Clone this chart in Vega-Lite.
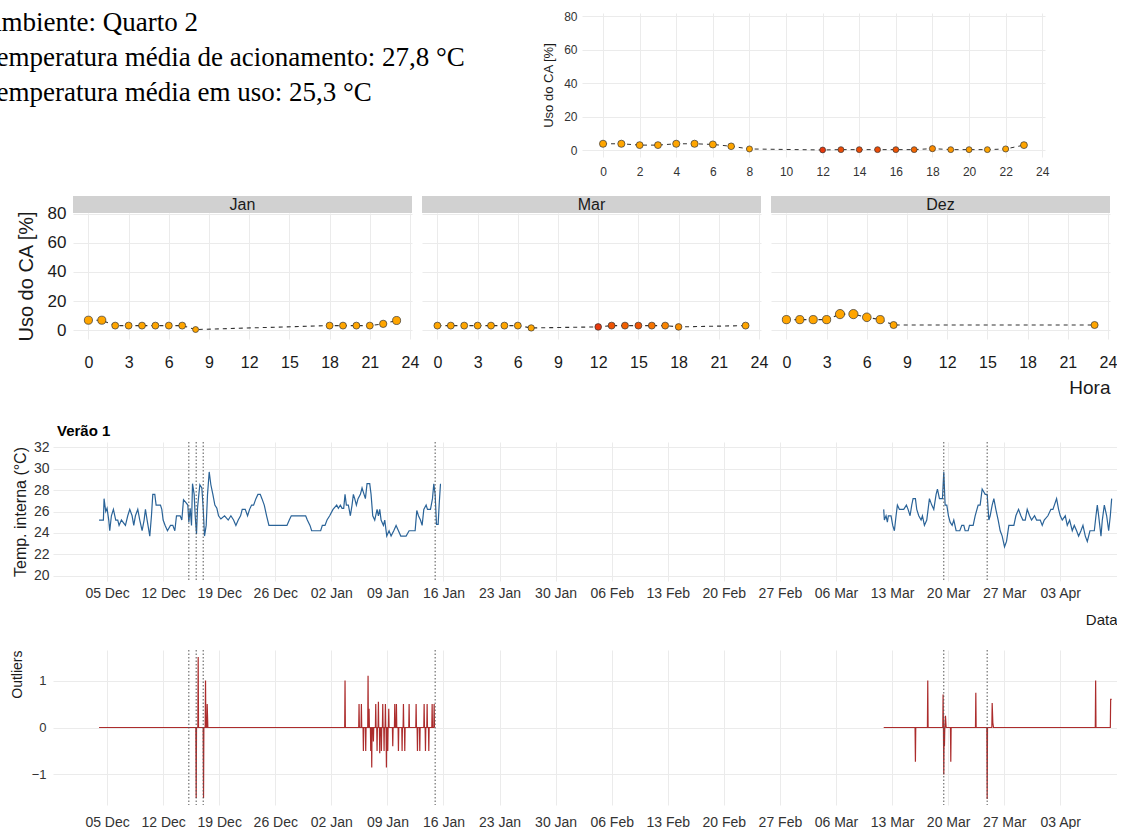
{
"$schema": "https://vega.github.io/schema/vega-lite/v6.json",
"padding": {"left": 0, "top": 10, "right": 0, "bottom": 0},
"config": {
  "font": "Liberation Sans",
  "view": {"stroke": null},
  "axis": {"domain": false, "ticks": false, "gridColor": "#ebebeb", "gridWidth": 1, "labelColor": "#333333", "titleColor": "#1a1a1a", "titleFontWeight": "normal", "labelFont": "Liberation Sans", "titleFont": "Liberation Sans", "labelFlush": false, "labelOverlap": false},
  "title": {"font": "Liberation Sans"}
},
"datasets": {
  "info": [
    {"linha": 1, "texto": "Ambiente: Quarto 2"},
    {"linha": 2, "texto": "Temperatura média de acionamento: 27,8 °C"},
    {"linha": 3, "texto": "Temperatura média em uso: 25,3 °C"}
  ],
  "geral": [
    {"hora": 0, "uso": 3.9, "temp": 26}, {"hora": 1, "uso": 3.9, "temp": 26}, {"hora": 2, "uso": 3.1, "temp": 26},
    {"hora": 3, "uso": 3.1, "temp": 26}, {"hora": 4, "uso": 3.9, "temp": 26}, {"hora": 5, "uso": 3.9, "temp": 26},
    {"hora": 6, "uso": 3.5, "temp": 26}, {"hora": 7, "uso": 2.4, "temp": 26}, {"hora": 8, "uso": 0.8, "temp": 26},
    {"hora": 12, "uso": 0.2, "temp": 29.5}, {"hora": 13, "uso": 0.4, "temp": 29}, {"hora": 14, "uso": 0.4, "temp": 29},
    {"hora": 15, "uso": 0.4, "temp": 29}, {"hora": 16, "uso": 0.4, "temp": 28.8}, {"hora": 17, "uso": 0.4, "temp": 28.2},
    {"hora": 18, "uso": 1.0, "temp": 27}, {"hora": 19, "uso": 0.4, "temp": 26.5}, {"hora": 20, "uso": 0.4, "temp": 26.2},
    {"hora": 21, "uso": 0.4, "temp": 26}, {"hora": 22, "uso": 0.8, "temp": 26}, {"hora": 23, "uso": 3.1, "temp": 26}
  ],
  "facetas": [
    {"mes": "Jan", "hora": 0, "uso": 6.9, "temp": 26}, {"mes": "Jan", "hora": 1, "uso": 6.9, "temp": 26},
    {"mes": "Jan", "hora": 2, "uso": 3.2, "temp": 26}, {"mes": "Jan", "hora": 3, "uso": 3.2, "temp": 26},
    {"mes": "Jan", "hora": 4, "uso": 3.2, "temp": 26}, {"mes": "Jan", "hora": 5, "uso": 3.2, "temp": 26},
    {"mes": "Jan", "hora": 6, "uso": 3.2, "temp": 26}, {"mes": "Jan", "hora": 7, "uso": 3.2, "temp": 26},
    {"mes": "Jan", "hora": 8, "uso": 0.5, "temp": 26}, {"mes": "Jan", "hora": 18, "uso": 3.2, "temp": 26},
    {"mes": "Jan", "hora": 19, "uso": 3.2, "temp": 26}, {"mes": "Jan", "hora": 20, "uso": 3.2, "temp": 26},
    {"mes": "Jan", "hora": 21, "uso": 3.2, "temp": 26}, {"mes": "Jan", "hora": 22, "uso": 4.4, "temp": 26},
    {"mes": "Jan", "hora": 23, "uso": 6.7, "temp": 26},
    {"mes": "Mar", "hora": 0, "uso": 3.2, "temp": 26}, {"mes": "Mar", "hora": 1, "uso": 3.2, "temp": 26},
    {"mes": "Mar", "hora": 2, "uso": 3.2, "temp": 26}, {"mes": "Mar", "hora": 3, "uso": 3.2, "temp": 26},
    {"mes": "Mar", "hora": 4, "uso": 3.2, "temp": 26}, {"mes": "Mar", "hora": 5, "uso": 3.2, "temp": 26},
    {"mes": "Mar", "hora": 6, "uso": 3.2, "temp": 26}, {"mes": "Mar", "hora": 7, "uso": 1.6, "temp": 26},
    {"mes": "Mar", "hora": 12, "uso": 2.3, "temp": 29.5}, {"mes": "Mar", "hora": 13, "uso": 3.2, "temp": 28.8},
    {"mes": "Mar", "hora": 14, "uso": 3.2, "temp": 28.4}, {"mes": "Mar", "hora": 15, "uso": 3.2, "temp": 28.8},
    {"mes": "Mar", "hora": 16, "uso": 3.2, "temp": 27.8}, {"mes": "Mar", "hora": 17, "uso": 3.2, "temp": 27.2},
    {"mes": "Mar", "hora": 18, "uso": 2.3, "temp": 26.8}, {"mes": "Mar", "hora": 23, "uso": 3.2, "temp": 26},
    {"mes": "Dez", "hora": 0, "uso": 7.3, "temp": 26}, {"mes": "Dez", "hora": 1, "uso": 7.3, "temp": 26},
    {"mes": "Dez", "hora": 2, "uso": 7.3, "temp": 26}, {"mes": "Dez", "hora": 3, "uso": 7.3, "temp": 26},
    {"mes": "Dez", "hora": 4, "uso": 11.1, "temp": 26}, {"mes": "Dez", "hora": 5, "uso": 11.1, "temp": 26},
    {"mes": "Dez", "hora": 6, "uso": 8.9, "temp": 26}, {"mes": "Dez", "hora": 7, "uso": 7.3, "temp": 26},
    {"mes": "Dez", "hora": 8, "uso": 3.6, "temp": 26}, {"mes": "Dez", "hora": 23, "uso": 3.6, "temp": 26}
  ],
  "eventos": [
    {"data": "2022-12-15T05:00"}, {"data": "2022-12-16T03:00"}, {"data": "2022-12-17T00:00"},
    {"data": "2023-01-14T23:00"}, {"data": "2023-03-19T11:00"}, {"data": "2023-03-24T21:00"}
  ],
  "temperatura": [
    {"data": "2022-12-04T00:00", "temp": 25.2, "seg": 1}, {"data": "2022-12-04T13:00", "temp": 25.2, "seg": 1},
    {"data": "2022-12-04T15:00", "temp": 27.2, "seg": 1}, {"data": "2022-12-04T20:00", "temp": 26.0, "seg": 1},
    {"data": "2022-12-05T00:00", "temp": 26.3, "seg": 1}, {"data": "2022-12-05T05:00", "temp": 25.2, "seg": 1},
    {"data": "2022-12-05T08:00", "temp": 24.2, "seg": 1}, {"data": "2022-12-05T13:00", "temp": 25.6, "seg": 1},
    {"data": "2022-12-05T19:00", "temp": 26.2, "seg": 1}, {"data": "2022-12-06T02:00", "temp": 25.2, "seg": 1},
    {"data": "2022-12-06T08:00", "temp": 25.2, "seg": 1}, {"data": "2022-12-06T12:00", "temp": 24.7, "seg": 1},
    {"data": "2022-12-06T19:00", "temp": 25.2, "seg": 1}, {"data": "2022-12-07T07:00", "temp": 24.7, "seg": 1},
    {"data": "2022-12-07T14:00", "temp": 25.6, "seg": 1}, {"data": "2022-12-07T20:00", "temp": 26.2, "seg": 1},
    {"data": "2022-12-08T03:00", "temp": 25.6, "seg": 1}, {"data": "2022-12-08T08:00", "temp": 24.7, "seg": 1},
    {"data": "2022-12-08T13:00", "temp": 25.6, "seg": 1}, {"data": "2022-12-08T20:00", "temp": 26.2, "seg": 1},
    {"data": "2022-12-09T02:00", "temp": 25.2, "seg": 1}, {"data": "2022-12-09T09:00", "temp": 24.2, "seg": 1},
    {"data": "2022-12-09T15:00", "temp": 25.2, "seg": 1}, {"data": "2022-12-09T19:00", "temp": 26.2, "seg": 1},
    {"data": "2022-12-10T00:00", "temp": 25.2, "seg": 1}, {"data": "2022-12-10T08:00", "temp": 23.7, "seg": 1},
    {"data": "2022-12-10T13:00", "temp": 25.6, "seg": 1}, {"data": "2022-12-10T17:00", "temp": 27.6, "seg": 1},
    {"data": "2022-12-10T23:00", "temp": 27.6, "seg": 1}, {"data": "2022-12-11T03:00", "temp": 26.6, "seg": 1},
    {"data": "2022-12-11T10:00", "temp": 26.6, "seg": 1}, {"data": "2022-12-11T16:00", "temp": 26.6, "seg": 1},
    {"data": "2022-12-11T20:00", "temp": 26.2, "seg": 1}, {"data": "2022-12-12T00:00", "temp": 25.2, "seg": 1},
    {"data": "2022-12-12T06:00", "temp": 24.7, "seg": 1}, {"data": "2022-12-12T13:00", "temp": 24.2, "seg": 1},
    {"data": "2022-12-12T22:00", "temp": 24.7, "seg": 1}, {"data": "2022-12-13T05:00", "temp": 24.7, "seg": 1},
    {"data": "2022-12-13T11:00", "temp": 24.2, "seg": 1}, {"data": "2022-12-13T16:00", "temp": 25.6, "seg": 1},
    {"data": "2022-12-14T03:00", "temp": 25.6, "seg": 1}, {"data": "2022-12-14T08:00", "temp": 25.2, "seg": 1},
    {"data": "2022-12-14T13:00", "temp": 27.1, "seg": 1}, {"data": "2022-12-14T21:00", "temp": 26.8, "seg": 1},
    {"data": "2022-12-15T02:00", "temp": 26.6, "seg": 1}, {"data": "2022-12-15T05:00", "temp": 25.0, "seg": 1},
    {"data": "2022-12-15T09:00", "temp": 26.3, "seg": 1}, {"data": "2022-12-15T13:00", "temp": 24.7, "seg": 1},
    {"data": "2022-12-15T16:00", "temp": 28.6, "seg": 1}, {"data": "2022-12-15T21:00", "temp": 27.6, "seg": 1},
    {"data": "2022-12-16T00:00", "temp": 25.6, "seg": 1}, {"data": "2022-12-16T04:00", "temp": 23.9, "seg": 1},
    {"data": "2022-12-16T07:00", "temp": 26.3, "seg": 1}, {"data": "2022-12-16T11:00", "temp": 27.6, "seg": 1},
    {"data": "2022-12-16T14:00", "temp": 28.5, "seg": 1}, {"data": "2022-12-16T20:00", "temp": 28.2, "seg": 1},
    {"data": "2022-12-17T00:00", "temp": 26.3, "seg": 1}, {"data": "2022-12-17T04:00", "temp": 23.7, "seg": 1},
    {"data": "2022-12-17T09:00", "temp": 24.7, "seg": 1}, {"data": "2022-12-17T13:00", "temp": 27.6, "seg": 1},
    {"data": "2022-12-17T18:00", "temp": 29.7, "seg": 1}, {"data": "2022-12-17T23:00", "temp": 28.5, "seg": 1},
    {"data": "2022-12-18T05:00", "temp": 27.6, "seg": 1}, {"data": "2022-12-18T11:00", "temp": 26.6, "seg": 1},
    {"data": "2022-12-18T17:00", "temp": 26.3, "seg": 1}, {"data": "2022-12-18T22:00", "temp": 25.6, "seg": 1},
    {"data": "2022-12-19T05:00", "temp": 25.3, "seg": 1}, {"data": "2022-12-19T16:00", "temp": 25.6, "seg": 1},
    {"data": "2022-12-20T03:00", "temp": 25.2, "seg": 1}, {"data": "2022-12-20T11:00", "temp": 25.6, "seg": 1},
    {"data": "2022-12-20T19:00", "temp": 25.2, "seg": 1}, {"data": "2022-12-21T02:00", "temp": 24.7, "seg": 1},
    {"data": "2022-12-21T09:00", "temp": 25.2, "seg": 1}, {"data": "2022-12-21T16:00", "temp": 25.6, "seg": 1},
    {"data": "2022-12-21T21:00", "temp": 26.2, "seg": 1}, {"data": "2022-12-22T06:00", "temp": 26.2, "seg": 1},
    {"data": "2022-12-22T13:00", "temp": 25.6, "seg": 1}, {"data": "2022-12-22T19:00", "temp": 26.2, "seg": 1},
    {"data": "2022-12-23T01:00", "temp": 26.6, "seg": 1}, {"data": "2022-12-23T07:00", "temp": 26.6, "seg": 1},
    {"data": "2022-12-23T14:00", "temp": 27.2, "seg": 1}, {"data": "2022-12-23T20:00", "temp": 27.6, "seg": 1},
    {"data": "2022-12-24T03:00", "temp": 27.6, "seg": 1}, {"data": "2022-12-24T08:00", "temp": 27.2, "seg": 1},
    {"data": "2022-12-24T15:00", "temp": 26.6, "seg": 1}, {"data": "2022-12-24T22:00", "temp": 25.6, "seg": 1},
    {"data": "2022-12-25T05:00", "temp": 24.7, "seg": 1}, {"data": "2022-12-26T08:00", "temp": 24.7, "seg": 1},
    {"data": "2022-12-27T11:00", "temp": 24.7, "seg": 1}, {"data": "2022-12-27T18:00", "temp": 25.2, "seg": 1},
    {"data": "2022-12-28T00:00", "temp": 25.6, "seg": 1}, {"data": "2022-12-29T00:00", "temp": 25.6, "seg": 1},
    {"data": "2022-12-29T19:00", "temp": 25.6, "seg": 1}, {"data": "2022-12-30T00:00", "temp": 25.2, "seg": 1},
    {"data": "2022-12-30T08:00", "temp": 24.7, "seg": 1}, {"data": "2022-12-30T13:00", "temp": 24.2, "seg": 1},
    {"data": "2022-12-31T16:00", "temp": 24.2, "seg": 1}, {"data": "2022-12-31T21:00", "temp": 24.7, "seg": 1},
    {"data": "2023-01-01T05:00", "temp": 24.7, "seg": 1}, {"data": "2023-01-01T11:00", "temp": 25.2, "seg": 1},
    {"data": "2023-01-01T19:00", "temp": 25.6, "seg": 1}, {"data": "2023-01-02T05:00", "temp": 26.2, "seg": 1},
    {"data": "2023-01-02T16:00", "temp": 26.6, "seg": 1}, {"data": "2023-01-02T21:00", "temp": 26.3, "seg": 1},
    {"data": "2023-01-03T03:00", "temp": 26.6, "seg": 1}, {"data": "2023-01-03T08:00", "temp": 26.3, "seg": 1},
    {"data": "2023-01-03T13:00", "temp": 26.3, "seg": 1}, {"data": "2023-01-03T17:00", "temp": 27.6, "seg": 1},
    {"data": "2023-01-03T21:00", "temp": 26.6, "seg": 1}, {"data": "2023-01-04T03:00", "temp": 26.6, "seg": 1},
    {"data": "2023-01-04T09:00", "temp": 25.6, "seg": 1}, {"data": "2023-01-04T14:00", "temp": 26.6, "seg": 1},
    {"data": "2023-01-04T18:00", "temp": 27.6, "seg": 1}, {"data": "2023-01-04T22:00", "temp": 27.2, "seg": 1},
    {"data": "2023-01-05T03:00", "temp": 26.6, "seg": 1}, {"data": "2023-01-05T08:00", "temp": 27.2, "seg": 1},
    {"data": "2023-01-05T15:00", "temp": 27.6, "seg": 1}, {"data": "2023-01-05T20:00", "temp": 28.2, "seg": 1},
    {"data": "2023-01-06T02:00", "temp": 27.6, "seg": 1}, {"data": "2023-01-06T06:00", "temp": 27.2, "seg": 1},
    {"data": "2023-01-06T11:00", "temp": 28.6, "seg": 1}, {"data": "2023-01-06T19:00", "temp": 28.6, "seg": 1},
    {"data": "2023-01-06T23:00", "temp": 27.6, "seg": 1}, {"data": "2023-01-07T04:00", "temp": 25.6, "seg": 1},
    {"data": "2023-01-07T10:00", "temp": 25.2, "seg": 1}, {"data": "2023-01-07T17:00", "temp": 26.2, "seg": 1},
    {"data": "2023-01-07T21:00", "temp": 25.6, "seg": 1}, {"data": "2023-01-08T01:00", "temp": 26.2, "seg": 1},
    {"data": "2023-01-08T05:00", "temp": 25.2, "seg": 1}, {"data": "2023-01-08T12:00", "temp": 24.7, "seg": 1},
    {"data": "2023-01-08T16:00", "temp": 25.2, "seg": 1}, {"data": "2023-01-08T22:00", "temp": 23.7, "seg": 1},
    {"data": "2023-01-09T05:00", "temp": 24.2, "seg": 1}, {"data": "2023-01-09T11:00", "temp": 23.7, "seg": 1},
    {"data": "2023-01-09T19:00", "temp": 24.2, "seg": 1}, {"data": "2023-01-10T02:00", "temp": 24.7, "seg": 1},
    {"data": "2023-01-10T09:00", "temp": 24.2, "seg": 1}, {"data": "2023-01-10T16:00", "temp": 23.7, "seg": 1},
    {"data": "2023-01-11T08:00", "temp": 23.7, "seg": 1}, {"data": "2023-01-11T17:00", "temp": 24.2, "seg": 1},
    {"data": "2023-01-12T11:00", "temp": 24.2, "seg": 1}, {"data": "2023-01-12T16:00", "temp": 26.1, "seg": 1},
    {"data": "2023-01-12T21:00", "temp": 25.6, "seg": 1}, {"data": "2023-01-13T03:00", "temp": 25.2, "seg": 1},
    {"data": "2023-01-13T08:00", "temp": 24.7, "seg": 1}, {"data": "2023-01-13T13:00", "temp": 26.2, "seg": 1},
    {"data": "2023-01-13T20:00", "temp": 26.6, "seg": 1}, {"data": "2023-01-14T00:00", "temp": 26.2, "seg": 1},
    {"data": "2023-01-14T09:00", "temp": 26.2, "seg": 1}, {"data": "2023-01-14T15:00", "temp": 27.2, "seg": 1},
    {"data": "2023-01-14T19:00", "temp": 28.6, "seg": 1}, {"data": "2023-01-14T23:00", "temp": 27.6, "seg": 1},
    {"data": "2023-01-15T03:00", "temp": 24.8, "seg": 1}, {"data": "2023-01-15T08:00", "temp": 24.8, "seg": 1},
    {"data": "2023-01-15T11:00", "temp": 26.6, "seg": 1}, {"data": "2023-01-15T15:00", "temp": 28.6, "seg": 1},
    {"data": "2023-03-11T23:00", "temp": 26.2, "seg": 2}, {"data": "2023-03-12T01:00", "temp": 25.2, "seg": 2},
    {"data": "2023-03-12T06:00", "temp": 25.6, "seg": 2}, {"data": "2023-03-12T10:00", "temp": 25.0, "seg": 2},
    {"data": "2023-03-12T13:00", "temp": 25.6, "seg": 2}, {"data": "2023-03-12T21:00", "temp": 25.6, "seg": 2},
    {"data": "2023-03-13T02:00", "temp": 24.7, "seg": 2}, {"data": "2023-03-13T07:00", "temp": 24.2, "seg": 2},
    {"data": "2023-03-13T12:00", "temp": 25.6, "seg": 2}, {"data": "2023-03-13T16:00", "temp": 26.6, "seg": 2},
    {"data": "2023-03-13T22:00", "temp": 26.2, "seg": 2}, {"data": "2023-03-14T05:00", "temp": 26.2, "seg": 2},
    {"data": "2023-03-14T11:00", "temp": 26.2, "seg": 2}, {"data": "2023-03-14T19:00", "temp": 26.6, "seg": 2},
    {"data": "2023-03-15T00:00", "temp": 26.2, "seg": 2}, {"data": "2023-03-15T06:00", "temp": 25.6, "seg": 2},
    {"data": "2023-03-15T11:00", "temp": 26.6, "seg": 2}, {"data": "2023-03-15T15:00", "temp": 27.2, "seg": 2},
    {"data": "2023-03-15T22:00", "temp": 27.2, "seg": 2}, {"data": "2023-03-16T02:00", "temp": 26.2, "seg": 2},
    {"data": "2023-03-16T08:00", "temp": 25.6, "seg": 2}, {"data": "2023-03-16T15:00", "temp": 25.2, "seg": 2},
    {"data": "2023-03-16T19:00", "temp": 25.6, "seg": 2}, {"data": "2023-03-17T01:00", "temp": 24.7, "seg": 2},
    {"data": "2023-03-17T08:00", "temp": 25.2, "seg": 2}, {"data": "2023-03-17T12:00", "temp": 26.2, "seg": 2},
    {"data": "2023-03-17T16:00", "temp": 27.2, "seg": 2}, {"data": "2023-03-17T23:00", "temp": 26.6, "seg": 2},
    {"data": "2023-03-18T05:00", "temp": 26.2, "seg": 2}, {"data": "2023-03-18T12:00", "temp": 27.6, "seg": 2},
    {"data": "2023-03-18T16:00", "temp": 28.1, "seg": 2}, {"data": "2023-03-18T22:00", "temp": 27.2, "seg": 2},
    {"data": "2023-03-19T07:00", "temp": 27.2, "seg": 2}, {"data": "2023-03-19T11:00", "temp": 29.7, "seg": 2},
    {"data": "2023-03-19T15:00", "temp": 26.6, "seg": 2}, {"data": "2023-03-19T20:00", "temp": 26.6, "seg": 2},
    {"data": "2023-03-20T01:00", "temp": 25.6, "seg": 2}, {"data": "2023-03-20T06:00", "temp": 25.0, "seg": 2},
    {"data": "2023-03-20T12:00", "temp": 24.7, "seg": 2}, {"data": "2023-03-20T17:00", "temp": 25.2, "seg": 2},
    {"data": "2023-03-21T00:00", "temp": 24.2, "seg": 2}, {"data": "2023-03-21T11:00", "temp": 24.2, "seg": 2},
    {"data": "2023-03-21T17:00", "temp": 24.7, "seg": 2}, {"data": "2023-03-21T23:00", "temp": 24.7, "seg": 2},
    {"data": "2023-03-22T03:00", "temp": 24.2, "seg": 2}, {"data": "2023-03-22T12:00", "temp": 24.2, "seg": 2},
    {"data": "2023-03-22T16:00", "temp": 24.7, "seg": 2}, {"data": "2023-03-23T03:00", "temp": 24.7, "seg": 2},
    {"data": "2023-03-23T09:00", "temp": 25.6, "seg": 2}, {"data": "2023-03-23T18:00", "temp": 26.6, "seg": 2},
    {"data": "2023-03-24T00:00", "temp": 26.6, "seg": 2}, {"data": "2023-03-24T06:00", "temp": 28.1, "seg": 2},
    {"data": "2023-03-24T15:00", "temp": 27.6, "seg": 2}, {"data": "2023-03-24T21:00", "temp": 27.6, "seg": 2},
    {"data": "2023-03-25T02:00", "temp": 25.2, "seg": 2}, {"data": "2023-03-25T06:00", "temp": 25.6, "seg": 2},
    {"data": "2023-03-25T12:00", "temp": 26.6, "seg": 2}, {"data": "2023-03-25T17:00", "temp": 27.2, "seg": 2},
    {"data": "2023-03-25T23:00", "temp": 26.2, "seg": 2}, {"data": "2023-03-26T06:00", "temp": 25.2, "seg": 2},
    {"data": "2023-03-26T12:00", "temp": 24.2, "seg": 2}, {"data": "2023-03-26T18:00", "temp": 23.7, "seg": 2},
    {"data": "2023-03-27T01:00", "temp": 22.7, "seg": 2}, {"data": "2023-03-27T07:00", "temp": 23.2, "seg": 2},
    {"data": "2023-03-27T14:00", "temp": 24.7, "seg": 2}, {"data": "2023-03-27T20:00", "temp": 24.7, "seg": 2},
    {"data": "2023-03-28T05:00", "temp": 24.7, "seg": 2}, {"data": "2023-03-28T11:00", "temp": 25.6, "seg": 2},
    {"data": "2023-03-28T19:00", "temp": 26.2, "seg": 2}, {"data": "2023-03-29T02:00", "temp": 25.6, "seg": 2},
    {"data": "2023-03-29T08:00", "temp": 25.2, "seg": 2}, {"data": "2023-03-29T15:00", "temp": 25.2, "seg": 2},
    {"data": "2023-03-29T21:00", "temp": 26.2, "seg": 2}, {"data": "2023-03-30T04:00", "temp": 25.6, "seg": 2},
    {"data": "2023-03-30T10:00", "temp": 25.2, "seg": 2}, {"data": "2023-03-30T19:00", "temp": 25.6, "seg": 2},
    {"data": "2023-03-31T01:00", "temp": 25.2, "seg": 2}, {"data": "2023-03-31T12:00", "temp": 25.2, "seg": 2},
    {"data": "2023-03-31T18:00", "temp": 24.7, "seg": 2}, {"data": "2023-04-01T00:00", "temp": 25.2, "seg": 2},
    {"data": "2023-04-01T11:00", "temp": 25.6, "seg": 2}, {"data": "2023-04-01T20:00", "temp": 26.2, "seg": 2},
    {"data": "2023-04-02T02:00", "temp": 26.2, "seg": 2}, {"data": "2023-04-02T13:00", "temp": 27.2, "seg": 2},
    {"data": "2023-04-02T19:00", "temp": 26.2, "seg": 2}, {"data": "2023-04-03T00:00", "temp": 25.6, "seg": 2},
    {"data": "2023-04-03T06:00", "temp": 25.2, "seg": 2}, {"data": "2023-04-03T15:00", "temp": 25.6, "seg": 2},
    {"data": "2023-04-03T21:00", "temp": 24.7, "seg": 2}, {"data": "2023-04-04T04:00", "temp": 25.2, "seg": 2},
    {"data": "2023-04-04T12:00", "temp": 24.2, "seg": 2}, {"data": "2023-04-04T18:00", "temp": 24.7, "seg": 2},
    {"data": "2023-04-05T01:00", "temp": 24.2, "seg": 2}, {"data": "2023-04-05T07:00", "temp": 23.7, "seg": 2},
    {"data": "2023-04-05T14:00", "temp": 24.2, "seg": 2}, {"data": "2023-04-05T20:00", "temp": 24.7, "seg": 2},
    {"data": "2023-04-06T03:00", "temp": 23.7, "seg": 2}, {"data": "2023-04-06T09:00", "temp": 23.2, "seg": 2},
    {"data": "2023-04-06T17:00", "temp": 24.2, "seg": 2}, {"data": "2023-04-07T00:00", "temp": 24.2, "seg": 2},
    {"data": "2023-04-07T06:00", "temp": 24.2, "seg": 2}, {"data": "2023-04-07T11:00", "temp": 25.6, "seg": 2},
    {"data": "2023-04-07T15:00", "temp": 26.6, "seg": 2}, {"data": "2023-04-07T19:00", "temp": 25.6, "seg": 2},
    {"data": "2023-04-08T02:00", "temp": 23.7, "seg": 2}, {"data": "2023-04-08T06:00", "temp": 25.2, "seg": 2},
    {"data": "2023-04-08T12:00", "temp": 26.6, "seg": 2}, {"data": "2023-04-08T19:00", "temp": 25.6, "seg": 2},
    {"data": "2023-04-09T01:00", "temp": 24.2, "seg": 2}, {"data": "2023-04-09T06:00", "temp": 25.6, "seg": 2},
    {"data": "2023-04-09T10:00", "temp": 27.2, "seg": 2}
  ],
  "outliers": [
    {"data": "2022-12-04T00:00", "valor": 0, "seg": 1}, {"data": "2022-12-16T02:00", "valor": 0, "seg": 1},
    {"data": "2022-12-16T03:00", "valor": -1.5, "seg": 1}, {"data": "2022-12-16T04:00", "valor": 0, "seg": 1},
    {"data": "2022-12-16T08:00", "valor": 0, "seg": 1}, {"data": "2022-12-16T09:00", "valor": 1.5, "seg": 1},
    {"data": "2022-12-16T10:00", "valor": 0, "seg": 1}, {"data": "2022-12-17T00:00", "valor": 0, "seg": 1},
    {"data": "2022-12-17T01:00", "valor": -1.5, "seg": 1}, {"data": "2022-12-17T02:00", "valor": 0, "seg": 1},
    {"data": "2022-12-17T06:00", "valor": 0, "seg": 1}, {"data": "2022-12-17T07:00", "valor": 1.0, "seg": 1},
    {"data": "2022-12-17T08:00", "valor": 0, "seg": 1}, {"data": "2022-12-17T11:00", "valor": 0, "seg": 1},
    {"data": "2022-12-17T12:00", "valor": 0.5, "seg": 1}, {"data": "2022-12-17T14:00", "valor": 0, "seg": 1},
    {"data": "2023-01-03T16:00", "valor": 0, "seg": 1}, {"data": "2023-01-03T17:00", "valor": 1.0, "seg": 1},
    {"data": "2023-01-03T18:00", "valor": 0, "seg": 1}, {"data": "2023-01-05T10:00", "valor": 0, "seg": 1},
    {"data": "2023-01-05T11:00", "valor": 0.5, "seg": 1}, {"data": "2023-01-05T12:00", "valor": 0, "seg": 1},
    {"data": "2023-01-05T17:00", "valor": 0, "seg": 1}, {"data": "2023-01-05T18:00", "valor": 0.5, "seg": 1},
    {"data": "2023-01-05T19:00", "valor": 0, "seg": 1}, {"data": "2023-01-05T23:00", "valor": 0, "seg": 1},
    {"data": "2023-01-06T00:00", "valor": -0.5, "seg": 1}, {"data": "2023-01-06T01:00", "valor": 0, "seg": 1},
    {"data": "2023-01-06T06:00", "valor": 0, "seg": 1}, {"data": "2023-01-06T07:00", "valor": -0.5, "seg": 1},
    {"data": "2023-01-06T08:00", "valor": 0, "seg": 1}, {"data": "2023-01-06T13:00", "valor": 0, "seg": 1},
    {"data": "2023-01-06T14:00", "valor": 1.1, "seg": 1}, {"data": "2023-01-06T15:00", "valor": 0, "seg": 1},
    {"data": "2023-01-06T16:00", "valor": 0, "seg": 1}, {"data": "2023-01-06T17:00", "valor": 0.4, "seg": 1},
    {"data": "2023-01-06T18:00", "valor": 0, "seg": 1}, {"data": "2023-01-06T21:00", "valor": 0, "seg": 1},
    {"data": "2023-01-06T22:00", "valor": -0.5, "seg": 1}, {"data": "2023-01-06T23:00", "valor": 0, "seg": 1},
    {"data": "2023-01-07T00:00", "valor": 0, "seg": 1}, {"data": "2023-01-07T01:00", "valor": -0.85, "seg": 1},
    {"data": "2023-01-07T02:00", "valor": 0, "seg": 1}, {"data": "2023-01-07T05:00", "valor": 0, "seg": 1},
    {"data": "2023-01-07T06:00", "valor": -0.3, "seg": 1}, {"data": "2023-01-07T07:00", "valor": 0, "seg": 1},
    {"data": "2023-01-07T12:00", "valor": 0, "seg": 1}, {"data": "2023-01-07T13:00", "valor": 0.5, "seg": 1},
    {"data": "2023-01-07T14:00", "valor": 0, "seg": 1}, {"data": "2023-01-07T16:00", "valor": 0, "seg": 1},
    {"data": "2023-01-07T17:00", "valor": -0.5, "seg": 1}, {"data": "2023-01-07T18:00", "valor": 0, "seg": 1},
    {"data": "2023-01-07T20:00", "valor": 0, "seg": 1}, {"data": "2023-01-07T21:00", "valor": 0.55, "seg": 1},
    {"data": "2023-01-07T22:00", "valor": 0, "seg": 1}, {"data": "2023-01-08T00:00", "valor": 0, "seg": 1},
    {"data": "2023-01-08T01:00", "valor": -0.55, "seg": 1}, {"data": "2023-01-08T02:00", "valor": 0, "seg": 1},
    {"data": "2023-01-08T05:00", "valor": 0, "seg": 1}, {"data": "2023-01-08T06:00", "valor": -0.5, "seg": 1},
    {"data": "2023-01-08T07:00", "valor": 0, "seg": 1}, {"data": "2023-01-08T09:00", "valor": 0, "seg": 1},
    {"data": "2023-01-08T10:00", "valor": 0.5, "seg": 1}, {"data": "2023-01-08T11:00", "valor": 0, "seg": 1},
    {"data": "2023-01-08T13:00", "valor": 0, "seg": 1}, {"data": "2023-01-08T14:00", "valor": -0.5, "seg": 1},
    {"data": "2023-01-08T15:00", "valor": 0, "seg": 1}, {"data": "2023-01-08T17:00", "valor": 0, "seg": 1},
    {"data": "2023-01-08T18:00", "valor": 0.5, "seg": 1}, {"data": "2023-01-08T19:00", "valor": 0, "seg": 1},
    {"data": "2023-01-08T20:00", "valor": 0, "seg": 1}, {"data": "2023-01-08T21:00", "valor": -0.85, "seg": 1},
    {"data": "2023-01-08T22:00", "valor": 0, "seg": 1}, {"data": "2023-01-09T00:00", "valor": 0, "seg": 1},
    {"data": "2023-01-09T01:00", "valor": -0.5, "seg": 1}, {"data": "2023-01-09T02:00", "valor": 0, "seg": 1},
    {"data": "2023-01-09T03:00", "valor": 0, "seg": 1}, {"data": "2023-01-09T04:00", "valor": 0.4, "seg": 1},
    {"data": "2023-01-09T05:00", "valor": 0, "seg": 1}, {"data": "2023-01-09T15:00", "valor": 0, "seg": 1},
    {"data": "2023-01-09T16:00", "valor": -0.4, "seg": 1}, {"data": "2023-01-09T17:00", "valor": 0, "seg": 1},
    {"data": "2023-01-09T21:00", "valor": 0, "seg": 1}, {"data": "2023-01-09T22:00", "valor": 0.5, "seg": 1},
    {"data": "2023-01-09T23:00", "valor": 0, "seg": 1}, {"data": "2023-01-10T02:00", "valor": 0, "seg": 1},
    {"data": "2023-01-10T03:00", "valor": 0.5, "seg": 1}, {"data": "2023-01-10T04:00", "valor": 0, "seg": 1},
    {"data": "2023-01-10T08:00", "valor": 0, "seg": 1}, {"data": "2023-01-10T09:00", "valor": -0.5, "seg": 1},
    {"data": "2023-01-10T10:00", "valor": 0, "seg": 1}, {"data": "2023-01-10T19:00", "valor": 0, "seg": 1},
    {"data": "2023-01-10T20:00", "valor": -0.5, "seg": 1}, {"data": "2023-01-10T21:00", "valor": 0, "seg": 1},
    {"data": "2023-01-10T23:00", "valor": 0, "seg": 1}, {"data": "2023-01-11T00:00", "valor": 0.5, "seg": 1},
    {"data": "2023-01-11T01:00", "valor": 0, "seg": 1}, {"data": "2023-01-11T03:00", "valor": 0, "seg": 1},
    {"data": "2023-01-11T04:00", "valor": -0.5, "seg": 1}, {"data": "2023-01-11T05:00", "valor": 0, "seg": 1},
    {"data": "2023-01-11T16:00", "valor": 0, "seg": 1}, {"data": "2023-01-11T17:00", "valor": 0.5, "seg": 1},
    {"data": "2023-01-11T18:00", "valor": 0, "seg": 1}, {"data": "2023-01-12T13:00", "valor": 0, "seg": 1},
    {"data": "2023-01-12T14:00", "valor": 0.5, "seg": 1}, {"data": "2023-01-12T15:00", "valor": 0, "seg": 1},
    {"data": "2023-01-12T17:00", "valor": 0, "seg": 1}, {"data": "2023-01-12T18:00", "valor": -0.5, "seg": 1},
    {"data": "2023-01-12T19:00", "valor": 0, "seg": 1}, {"data": "2023-01-13T00:00", "valor": 0, "seg": 1},
    {"data": "2023-01-13T01:00", "valor": -0.5, "seg": 1}, {"data": "2023-01-13T02:00", "valor": 0, "seg": 1},
    {"data": "2023-01-13T13:00", "valor": 0, "seg": 1}, {"data": "2023-01-13T14:00", "valor": 0.5, "seg": 1},
    {"data": "2023-01-13T15:00", "valor": 0, "seg": 1}, {"data": "2023-01-13T17:00", "valor": 0, "seg": 1},
    {"data": "2023-01-13T18:00", "valor": -0.5, "seg": 1}, {"data": "2023-01-13T19:00", "valor": 0, "seg": 1},
    {"data": "2023-01-13T22:00", "valor": 0, "seg": 1}, {"data": "2023-01-13T23:00", "valor": 0.5, "seg": 1},
    {"data": "2023-01-14T00:00", "valor": 0, "seg": 1}, {"data": "2023-01-14T03:00", "valor": 0, "seg": 1},
    {"data": "2023-01-14T04:00", "valor": -0.5, "seg": 1}, {"data": "2023-01-14T05:00", "valor": 0, "seg": 1},
    {"data": "2023-01-14T13:00", "valor": 0, "seg": 1}, {"data": "2023-01-14T14:00", "valor": 0.5, "seg": 1},
    {"data": "2023-01-14T15:00", "valor": 0, "seg": 1}, {"data": "2023-01-14T19:00", "valor": 0, "seg": 1},
    {"data": "2023-01-14T20:00", "valor": 0.5, "seg": 1}, {"data": "2023-01-14T21:00", "valor": 0, "seg": 1},
    {"data": "2023-03-11T23:00", "valor": 0, "seg": 2}, {"data": "2023-03-15T21:00", "valor": 0, "seg": 2},
    {"data": "2023-03-15T22:00", "valor": -0.73, "seg": 2}, {"data": "2023-03-15T23:00", "valor": 0, "seg": 2},
    {"data": "2023-03-17T10:00", "valor": 0, "seg": 2}, {"data": "2023-03-17T11:00", "valor": 1.0, "seg": 2},
    {"data": "2023-03-17T12:00", "valor": 0, "seg": 2}, {"data": "2023-03-19T08:00", "valor": 0, "seg": 2},
    {"data": "2023-03-19T09:00", "valor": 0.7, "seg": 2}, {"data": "2023-03-19T10:00", "valor": 0, "seg": 2},
    {"data": "2023-03-19T11:00", "valor": -1.0, "seg": 2}, {"data": "2023-03-19T12:00", "valor": 0, "seg": 2},
    {"data": "2023-03-19T13:00", "valor": -0.4, "seg": 2}, {"data": "2023-03-19T14:00", "valor": 0, "seg": 2},
    {"data": "2023-03-19T16:00", "valor": 0.25, "seg": 2}, {"data": "2023-03-19T18:00", "valor": 0, "seg": 2},
    {"data": "2023-03-20T07:00", "valor": 0, "seg": 2}, {"data": "2023-03-20T08:00", "valor": -0.73, "seg": 2},
    {"data": "2023-03-20T09:00", "valor": 0, "seg": 2}, {"data": "2023-03-23T10:00", "valor": 0, "seg": 2},
    {"data": "2023-03-23T11:00", "valor": 0.74, "seg": 2}, {"data": "2023-03-23T12:00", "valor": 0, "seg": 2},
    {"data": "2023-03-24T20:00", "valor": 0, "seg": 2}, {"data": "2023-03-24T21:00", "valor": -1.52, "seg": 2},
    {"data": "2023-03-24T22:00", "valor": 0, "seg": 2}, {"data": "2023-03-25T11:00", "valor": 0, "seg": 2},
    {"data": "2023-03-25T12:00", "valor": 0.52, "seg": 2}, {"data": "2023-03-25T14:00", "valor": 0.1, "seg": 2},
    {"data": "2023-03-25T16:00", "valor": 0, "seg": 2}, {"data": "2023-04-07T09:00", "valor": 0, "seg": 2},
    {"data": "2023-04-07T10:00", "valor": 1.0, "seg": 2}, {"data": "2023-04-07T11:00", "valor": 0, "seg": 2},
    {"data": "2023-04-09T06:00", "valor": 0, "seg": 2}, {"data": "2023-04-09T07:00", "valor": 0.6, "seg": 2},
    {"data": "2023-04-09T10:00", "valor": 0.6, "seg": 2}
  ]
},
"spacing": 19,
"vconcat": [
  {
    "hconcat": [
      {
        "width": 572, "height": 144,
        "data": {"name": "info"},
        "mark": {"type": "text", "align": "left", "baseline": "middle", "dx": -18, "font": "Liberation Serif", "fontSize": 27, "color": "#000000", "clip": true},
        "encoding": {
          "x": {"datum": 0, "type": "quantitative", "scale": {"domain": [0, 1]}, "axis": null},
          "y": {"field": "linha", "type": "quantitative", "scale": {"domain": [0.714, 4.829], "reverse": true, "nice": false, "zero": false}, "axis": null},
          "text": {"field": "texto"}
        }
      },
      {
        "width": 463, "height": 144,
        "data": {"name": "geral"},
        "encoding": {
          "x": {"field": "hora", "type": "quantitative", "scale": {"domain": [-1.15, 24.15], "nice": false, "zero": false},
                "axis": {"values": [0, 2, 4, 6, 8, 10, 12, 14, 16, 18, 20, 22, 24], "title": null, "labelFontSize": 12, "labelPadding": 9}},
          "y": {"field": "uso", "type": "quantitative", "scale": {"domain": [-4, 82], "nice": false},
                "axis": {"values": [0, 20, 40, 60, 80], "title": "Uso do CA [%]", "titleFontSize": 13, "labelFontSize": 12, "labelPadding": 5, "titlePadding": 8}}
        },
        "layer": [
          {"mark": {"type": "line", "strokeDash": [4, 4], "color": "#333333", "strokeWidth": 1}},
          {"mark": {"type": "point", "filled": true, "stroke": "#333333", "strokeWidth": 0.7, "opacity": 1},
           "encoding": {
             "fill": {"field": "temp", "type": "quantitative", "scale": {"domain": [26, 29.5], "range": ["#ffa500", "#e8380d"]}, "legend": null},
             "size": {"field": "uso", "type": "quantitative", "scale": {"domain": [0, 4], "range": [33, 85]}, "legend": null}
           }}
        ]
      }
    ],
    "spacing": 10,
    "bounds": "flush"
  },
  {
    "spacing": 27,
    "vconcat": [
      {
        "bounds": "flush",
        "align": "each",
        "columns": 4,
        "spacing": {"row": 0, "column": 10},
        "concat": [
          {"width": 63, "height": 1, "data": {"values": []}, "mark": "point"},
          {"width": 339, "height": 17, "view": {"fill": "#d1d1d1", "stroke": null},
           "data": {"values": [{"mes": "Jan"}]},
           "mark": {"type": "text", "fontSize": 16, "color": "#1a1a1a", "baseline": "middle", "align": "center"},
           "encoding": {
             "x": {"datum": 0.5, "type": "quantitative", "scale": {"domain": [0, 1]}, "axis": null},
             "y": {"datum": 0.5, "type": "quantitative", "scale": {"domain": [0, 1]}, "axis": null},
             "text": {"field": "mes"}}},
          {"width": 339, "height": 17, "view": {"fill": "#d1d1d1", "stroke": null},
           "data": {"values": [{"mes": "Mar"}]},
           "mark": {"type": "text", "fontSize": 16, "color": "#1a1a1a", "baseline": "middle", "align": "center"},
           "encoding": {
             "x": {"datum": 0.5, "type": "quantitative", "scale": {"domain": [0, 1]}, "axis": null},
             "y": {"datum": 0.5, "type": "quantitative", "scale": {"domain": [0, 1]}, "axis": null},
             "text": {"field": "mes"}}},
          {"width": 339, "height": 17, "view": {"fill": "#d1d1d1", "stroke": null},
           "data": {"values": [{"mes": "Dez"}]},
           "mark": {"type": "text", "fontSize": 16, "color": "#1a1a1a", "baseline": "middle", "align": "center"},
           "encoding": {
             "x": {"datum": 0.5, "type": "quantitative", "scale": {"domain": [0, 1]}, "axis": null},
             "y": {"datum": 0.5, "type": "quantitative", "scale": {"domain": [0, 1]}, "axis": null},
             "text": {"field": "mes"}}},
          {"width": 63, "height": 1, "data": {"values": []}, "mark": "point"},
          {"width": 339, "height": 126,
           "data": {"name": "facetas"},
           "transform": [{"filter": "datum.mes === 'Jan'"}],
           "encoding": {
             "x": {"field": "hora", "type": "quantitative", "scale": {"domain": [-1.15, 24.15], "nice": false, "zero": false},
                   "axis": {"values": [0, 3, 6, 9, 12, 15, 18, 21, 24], "title": null, "labelFontSize": 16, "labelPadding": 15, "labelColor": "#1a1a1a"}},
             "y": {"field": "uso", "type": "quantitative", "scale": {"domain": [-6, 80.5], "nice": false},
                   "axis": {"values": [0, 20, 40, 60, 80], "title": "Uso do CA [%]", "titleFontSize": 20, "labelFontSize": 17, "labelPadding": 7, "titlePadding": 11, "labelColor": "#1a1a1a"}}
           },
           "layer": [
             {"mark": {"type": "line", "strokeDash": [4, 4], "color": "#333333", "strokeWidth": 1.1}},
             {"mark": {"type": "point", "filled": true, "stroke": "#333333", "strokeWidth": 0.7, "opacity": 1},
              "encoding": {
                "fill": {"field": "temp", "type": "quantitative", "scale": {"domain": [26, 29.5], "range": ["#ffa500", "#e8380d"]}, "legend": null},
                "size": {"field": "uso", "type": "quantitative", "scale": {"domain": [0, 11], "range": [20, 120]}, "legend": null}}}
           ]},
          {"width": 339, "height": 126,
           "data": {"name": "facetas"},
           "transform": [{"filter": "datum.mes === 'Mar'"}],
           "encoding": {
             "x": {"field": "hora", "type": "quantitative", "scale": {"domain": [-1.15, 24.15], "nice": false, "zero": false},
                   "axis": {"values": [0, 3, 6, 9, 12, 15, 18, 21, 24], "title": null, "labelFontSize": 16, "labelPadding": 15, "labelColor": "#1a1a1a"}},
             "y": {"field": "uso", "type": "quantitative", "scale": {"domain": [-6, 80.5], "nice": false},
                   "axis": {"values": [0, 20, 40, 60, 80], "title": null, "labels": false}}
           },
           "layer": [
             {"mark": {"type": "line", "strokeDash": [4, 4], "color": "#333333", "strokeWidth": 1.1}},
             {"mark": {"type": "point", "filled": true, "stroke": "#333333", "strokeWidth": 0.7, "opacity": 1},
              "encoding": {
                "fill": {"field": "temp", "type": "quantitative", "scale": {"domain": [26, 29.5], "range": ["#ffa500", "#e8380d"]}, "legend": null},
                "size": {"field": "uso", "type": "quantitative", "scale": {"domain": [0, 11], "range": [20, 120]}, "legend": null}}}
           ]},
          {"width": 339, "height": 126,
           "data": {"name": "facetas"},
           "transform": [{"filter": "datum.mes === 'Dez'"}],
           "encoding": {
             "x": {"field": "hora", "type": "quantitative", "scale": {"domain": [-1.15, 24.15], "nice": false, "zero": false},
                   "axis": {"values": [0, 3, 6, 9, 12, 15, 18, 21, 24], "title": "Hora", "titleAnchor": "end", "titleFontSize": 19, "titlePadding": 8, "titleColor": "#1a1a1a", "labelFontSize": 16, "labelPadding": 15, "labelColor": "#1a1a1a"}},
             "y": {"field": "uso", "type": "quantitative", "scale": {"domain": [-6, 80.5], "nice": false},
                   "axis": {"values": [0, 20, 40, 60, 80], "title": null, "labels": false}}
           },
           "layer": [
             {"mark": {"type": "line", "strokeDash": [4, 4], "color": "#333333", "strokeWidth": 1.1}},
             {"mark": {"type": "point", "filled": true, "stroke": "#333333", "strokeWidth": 0.7, "opacity": 1},
              "encoding": {
                "fill": {"field": "temp", "type": "quantitative", "scale": {"domain": [26, 29.5], "range": ["#ffa500", "#e8380d"]}, "legend": null},
                "size": {"field": "uso", "type": "quantitative", "scale": {"domain": [0, 11], "range": [20, 120]}, "legend": null}}}
           ]}
        ]
      },
      {
        "spacing": 22,
        "vconcat": [
          {
            "bounds": "flush", "spacing": 0,
            "hconcat": [
              {"width": 53, "height": 1, "data": {"values": []}, "mark": "point"},
              {
                "width": 1064, "height": 139,
                "title": {"text": "Verão 1", "anchor": "start", "frame": "group", "fontSize": 15, "fontWeight": "bold", "color": "#000000", "offset": 1, "dx": 4},
                "layer": [
                  {"data": {"name": "temperatura"},
                   "mark": {"type": "line", "color": "#2a6398", "strokeWidth": 1.2},
                   "encoding": {
                     "x": {"field": "data", "type": "temporal",
                           "scale": {"domain": [{"year": 2022, "month": 11, "date": 28, "hours": 6}, {"year": 2023, "month": 4, "date": 10, "hours": 2}]},
                           "axis": {"values": [
                             {"year": 2022, "month": 12, "date": 5}, {"year": 2022, "month": 12, "date": 12}, {"year": 2022, "month": 12, "date": 19}, {"year": 2022, "month": 12, "date": 26},
                             {"year": 2023, "month": 1, "date": 2}, {"year": 2023, "month": 1, "date": 9}, {"year": 2023, "month": 1, "date": 16}, {"year": 2023, "month": 1, "date": 23}, {"year": 2023, "month": 1, "date": 30},
                             {"year": 2023, "month": 2, "date": 6}, {"year": 2023, "month": 2, "date": 13}, {"year": 2023, "month": 2, "date": 20}, {"year": 2023, "month": 2, "date": 27},
                             {"year": 2023, "month": 3, "date": 6}, {"year": 2023, "month": 3, "date": 13}, {"year": 2023, "month": 3, "date": 20}, {"year": 2023, "month": 3, "date": 27},
                             {"year": 2023, "month": 4, "date": 3}],
                             "format": "%d %b", "title": "Data", "titleAnchor": "end", "titleFontSize": 15, "titlePadding": 12, "labelFontSize": 14, "labelPadding": 5}},
                     "y": {"field": "temp", "type": "quantitative", "scale": {"domain": [19.5, 32.5], "nice": false, "zero": false},
                           "axis": {"values": [20, 22, 24, 26, 28, 30, 32], "title": "Temp. interna (°C)", "titleFontSize": 16, "labelFontSize": 14, "labelPadding": 4, "titlePadding": 5}},
                     "detail": {"field": "seg"}
                   }},
                  {"data": {"name": "eventos"},
                   "mark": {"type": "rule", "strokeDash": [1.5, 2], "color": "#555555", "strokeWidth": 1},
                   "encoding": {"x": {"field": "data", "type": "temporal"}}}
                ]
              }
            ]
          },
          {
            "bounds": "flush", "spacing": 0,
            "hconcat": [
              {"width": 53, "height": 1, "data": {"values": []}, "mark": "point"},
              {
                "width": 1064, "height": 155,
                "layer": [
                  {"data": {"name": "outliers"},
                   "mark": {"type": "line", "color": "#a31515", "strokeWidth": 1.2, "opacity": 0.9},
                   "encoding": {
                     "x": {"field": "data", "type": "temporal",
                           "scale": {"domain": [{"year": 2022, "month": 11, "date": 28, "hours": 6}, {"year": 2023, "month": 4, "date": 10, "hours": 2}]},
                           "axis": {"values": [
                             {"year": 2022, "month": 12, "date": 5}, {"year": 2022, "month": 12, "date": 12}, {"year": 2022, "month": 12, "date": 19}, {"year": 2022, "month": 12, "date": 26},
                             {"year": 2023, "month": 1, "date": 2}, {"year": 2023, "month": 1, "date": 9}, {"year": 2023, "month": 1, "date": 16}, {"year": 2023, "month": 1, "date": 23}, {"year": 2023, "month": 1, "date": 30},
                             {"year": 2023, "month": 2, "date": 6}, {"year": 2023, "month": 2, "date": 13}, {"year": 2023, "month": 2, "date": 20}, {"year": 2023, "month": 2, "date": 27},
                             {"year": 2023, "month": 3, "date": 6}, {"year": 2023, "month": 3, "date": 13}, {"year": 2023, "month": 3, "date": 20}, {"year": 2023, "month": 3, "date": 27},
                             {"year": 2023, "month": 4, "date": 3}],
                             "format": "%d %b", "title": null, "labelFontSize": 14, "labelPadding": 10}},
                     "y": {"field": "valor", "type": "quantitative", "scale": {"domain": [-1.65, 1.65], "nice": false, "zero": false},
                           "axis": {"values": [-1, 0, 1], "title": "Outliers", "titleAnchor": "end", "titleFontSize": 14, "labelFontSize": 13, "labelPadding": 7, "titlePadding": 7}},
                     "detail": {"field": "seg"}
                   }},
                  {"data": {"name": "eventos"},
                   "mark": {"type": "rule", "strokeDash": [1.5, 2], "color": "#555555", "strokeWidth": 1},
                   "encoding": {"x": {"field": "data", "type": "temporal"}}}
                ]
              }
            ]
          }
        ]
      }
    ]
  }
]
}
